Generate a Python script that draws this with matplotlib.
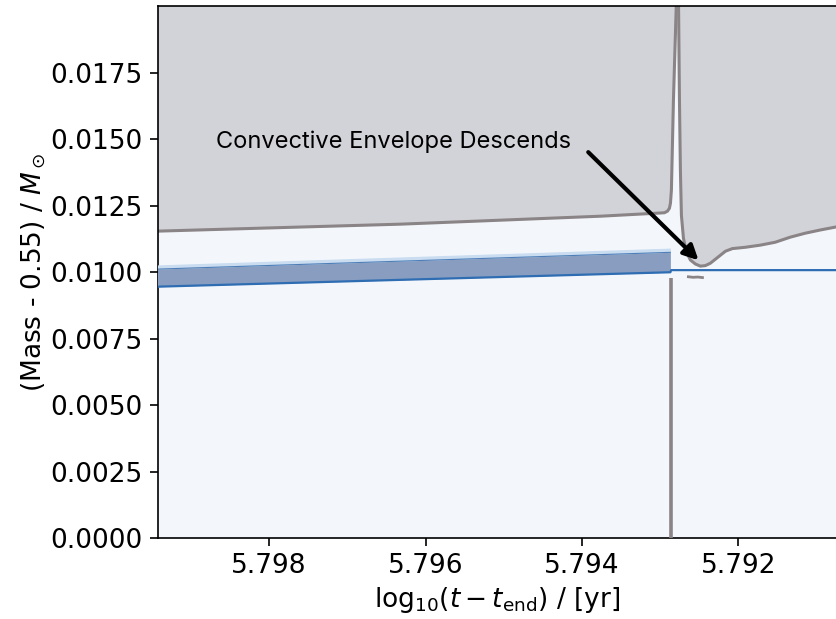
import numpy as np
import matplotlib
matplotlib.use("Agg")
import matplotlib.pyplot as plt
from matplotlib.ticker import FormatStrFormatter

plt.rcParams['font.family'] = 'DejaVu Sans'
plt.rcParams['mathtext.fontset'] = 'dejavusans'

# convective zone (left of the flash), lower boundary
conv_left_x = [5.79951, 5.79632, 5.79376, 5.792997, 5.792946, 5.792907, 5.792882,
               5.792869, 5.792857, 5.792831, 5.79279]
conv_left_y = [0.01154, 0.01181, 0.01211, 0.01223, 0.01224, 0.01230, 0.01241,
               0.01260, 0.01309, 0.01648, 0.02050]

# convective zone (right of the flash), lower boundary
conv_right_x = [5.792767, 5.792754, 5.792742, 5.792729, 5.792703, 5.792665, 5.792614,
                5.792550, 5.792486, 5.792423, 5.792359, 5.792295, 5.792231, 5.792167,
                5.792078, 5.791912, 5.791721, 5.791529, 5.791338, 5.791146, 5.790955,
                5.790636]
conv_right_y = [0.02050, 0.01648, 0.01384, 0.01214, 0.01128, 0.01076, 0.01046,
                0.01031, 0.01023, 0.01025, 0.01034, 0.01049, 0.01064, 0.01079,
                0.01089, 0.01094, 0.01102, 0.01113, 0.01132, 0.01147, 0.01159,
                0.01177]

# burning shell
shell_x = [5.79951, 5.79287]
shell_lo = [0.009450, 0.010000]
shell_hi = [0.010110, 0.010750]

# hydrogen-free core boundary after the flash
core_x = [5.79951, 5.79287, 5.79286, 5.79060]
core_y = [0.009450, 0.010000, 0.010080, 0.010080]

# narrow convective column below the shell
column_x = [5.79286, 5.79286]
column_y = [0.0, 0.00978]

# small convective pocket
pocket_x = [5.79264, 5.79258, 5.79252, 5.79246]
pocket_y = [0.00983, 0.00981, 0.00982, 0.00980]

yticks = [0.0, 0.0025, 0.005, 0.0075, 0.01, 0.0125, 0.015, 0.0175]
xticks = [5.798, 5.796, 5.794, 5.792]

conv_face = '#d2d3d8'
conv_edge = '#8a8486'

fig = plt.figure(figsize=(8.37, 6.19), dpi=100)
ax = fig.add_axes([0.1888, 0.1309, 0.8112, 0.8594])
ax.set_facecolor('#f3f7fc')

ax.fill(conv_left_x + [5.7996], conv_left_y + [0.0205],
        facecolor=conv_face, edgecolor=conv_edge, lw=2.2, zorder=2)
ax.fill(conv_right_x + [5.7905], conv_right_y + [0.0205],
        facecolor=conv_face, edgecolor=conv_edge, lw=2.2, zorder=2)

hi = np.array(shell_hi)
ax.fill_between(shell_x, hi, hi + 0.00016, color='#c9dcf0', lw=0, zorder=3)
ax.fill_between(shell_x, shell_lo, shell_hi, color='#889dbf', lw=0, zorder=3)
ax.plot(shell_x, shell_hi, color='#4f7fb8', lw=0.8, zorder=4)
ax.plot(core_x, core_y, color='#2f6db3', lw=1.6, zorder=4)

ax.plot(column_x, column_y, color=conv_edge, lw=2.6, solid_capstyle='butt', zorder=3)
ax.plot(pocket_x, pocket_y, color=conv_edge, lw=2.0, zorder=3)

ax.text(5.79868, 0.01490, 'Convective Envelope Descends', family='Inter',
        fontsize=17, va='center', ha='left', zorder=6)
ax.annotate('', xy=(5.79251, 0.01045), xytext=(5.79392, 0.01452),
            arrowprops=dict(arrowstyle='-|>', color='black', lw=3,
                            mutation_scale=22, shrinkA=0, shrinkB=0), zorder=6)

ax.set_xlim(5.79942, 5.79074)
ax.set_ylim(0, 0.02002)
ax.set_xticks(xticks)
ax.set_yticks(yticks)
ax.yaxis.set_major_formatter(FormatStrFormatter('%.4f'))
ax.tick_params(labelsize=19, length=6, width=1.2, pad=5)
ax.spines['right'].set_visible(False)
for s in ['left', 'bottom', 'top']:
    ax.spines[s].set_linewidth(1.2)

ax.set_xlabel(r'$\mathrm{log}_{10}(t - t_{\rm end})$ / [yr]', fontsize=19, labelpad=4)
ax.set_ylabel(r'(Mass - 0.55) / $M_\odot$', fontsize=19, labelpad=2)

fig.savefig('out.png', dpi=100)
